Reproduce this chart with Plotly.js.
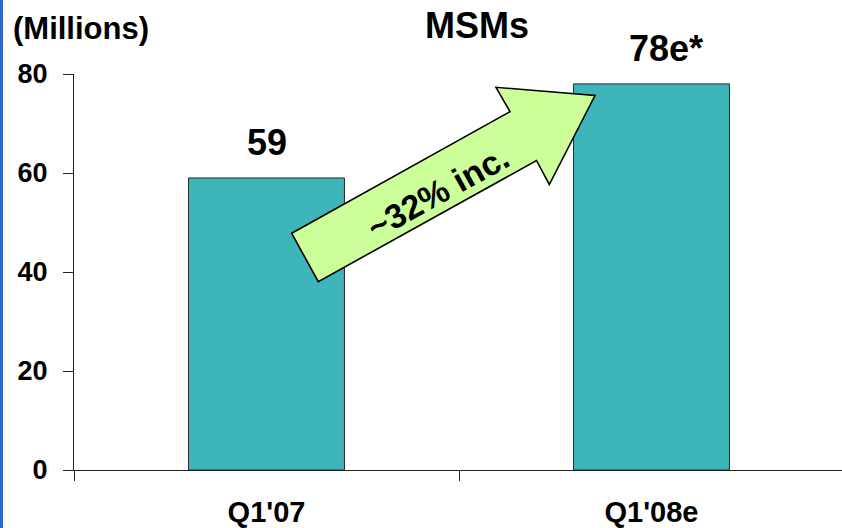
<!DOCTYPE html>
<html>
<head>
<meta charset="utf-8">
<script src="https://cdn.plot.ly/plotly-3.0.1.min.js"></script>
<style>
  html, body { margin: 0; padding: 0; background: #ffffff; }
  #wrap { position: relative; width: 842px; height: 528px; overflow: hidden; }
  #chart { position: absolute; left: 0; top: 0; width: 842px; height: 528px; }
  #strip { position: absolute; left: 0; top: 0; width: 3px; height: 528px; background: #3366cc; z-index: 5; }
  #strip2 { position: absolute; left: 3px; top: 0; width: 7px; height: 528px; background: #fdfdf4; z-index: 4; }
</style>
</head>
<body>
<div id="wrap">
  <div id="strip"></div>
  <div id="strip2"></div>
  <div id="chart"></div>
</div>
<script>
// ---- data ----
const categories = ["Q1'07", "Q1'08e"];
const values = [59, 78];
const valueLabels = ["59", "78e*"];
const yTickVals = [0, 20, 40, 60, 80];
const chartTitle = "MSMs";
const unitLabel = "(Millions)";
const growthLabel = "~32% inc.";

// ---- layout helpers (plot area in pixels) ----
const W = 842, H = 528;
const M = { l: 74, r: 0, t: 74, b: 58 };
const plotW = W - M.l - M.r, plotH = H - M.t - M.b;
const px = x => (x - M.l) / plotW;          // pixel -> paper x
const py = y => (H - M.b - y) / plotH;      // pixel -> paper y

// arrow polygon (decoration) in pixels
const arrowPts = [[291.7,233.3],[510,111.7],[496,87.3],[595,95.5],[549.3,184.5],[536.5,160.5],[318.3,281.7]];
const arrowPath = 'M ' + arrowPts.map(p => px(p[0]).toFixed(5) + ',' + py(p[1]).toFixed(5)).join(' L ') + ' Z';

const fontFam = "Liberation Sans, Arial, Helvetica, sans-serif";

const trace = {
  type: 'bar',
  x: categories,
  y: values,
  marker: { color: '#3db5ba', line: { color: '#2a2a2a', width: 1 } },
  hoverinfo: 'none'
};

const annotations = categories.map((c, i) => ({
  x: c, y: values[i], xref: 'x', yref: 'y',
  text: '<b>' + valueLabels[i] + '</b>',
  showarrow: false, xanchor: 'center', yanchor: 'middle',
  yshift: 35, xshift: i === 1 ? 14 : 0,
  font: { family: fontFam, size: 36, color: '#000' }
}));

annotations.push({
  xref: 'paper', yref: 'paper', x: px(11), y: py(28),
  text: '<b>' + unitLabel + '</b>', showarrow: false,
  xanchor: 'left', yanchor: 'middle',
  font: { family: fontFam, size: 31, color: '#000' }
});

annotations.push({
  xref: 'paper', yref: 'paper', x: px(438), y: py(192),
  text: '<b>' + growthLabel + '</b>', showarrow: false,
  xanchor: 'center', yanchor: 'middle', textangle: -29,
  font: { family: fontFam, size: 34, color: '#000' }
});

const layout = {
  width: W, height: H,
  margin: M,
  paper_bgcolor: 'rgba(0,0,0,0)',
  plot_bgcolor: 'rgba(0,0,0,0)',
  showlegend: false,
  bargap: 0.595,
  title: {
    text: '<b>' + chartTitle + '</b>',
    x: 477 / W, xref: 'container', xanchor: 'center',
    y: 1 - 25 / H, yref: 'container', yanchor: 'middle',
    font: { family: fontFam, size: 36, color: '#000' }
  },
  xaxis: {
    type: 'category',
    range: [-0.5, -0.5 + plotW / 385],
    showline: true, linecolor: '#222', linewidth: 1,
    ticks: 'outside', ticklen: 10, tickcolor: '#222', tickwidth: 1,
    tickson: 'boundaries',
    showgrid: false, zeroline: false,
    ticklabelstandoff: 16,
    tickfont: { family: fontFam, size: 29, color: '#000', weight: 'bold' }
  },
  yaxis: {
    range: [0, 80],
    tickvals: yTickVals,
    showline: true, linecolor: '#222', linewidth: 1,
    ticks: 'outside', ticklen: 10, tickcolor: '#222', tickwidth: 1,
    showgrid: false, zeroline: false,
    ticklabelstandoff: 10,
    tickfont: { family: fontFam, size: 27, color: '#000', weight: 'bold' }
  },
  shapes: [{
    type: 'path', xref: 'paper', yref: 'paper', path: arrowPath,
    fillcolor: '#ccff99', line: { color: '#000', width: 1.6 }, layer: 'above'
  }],
  annotations: annotations
};

Plotly.newPlot('chart', [trace], layout, { staticPlot: true, displayModeBar: false });
</script>
</body>
</html>
